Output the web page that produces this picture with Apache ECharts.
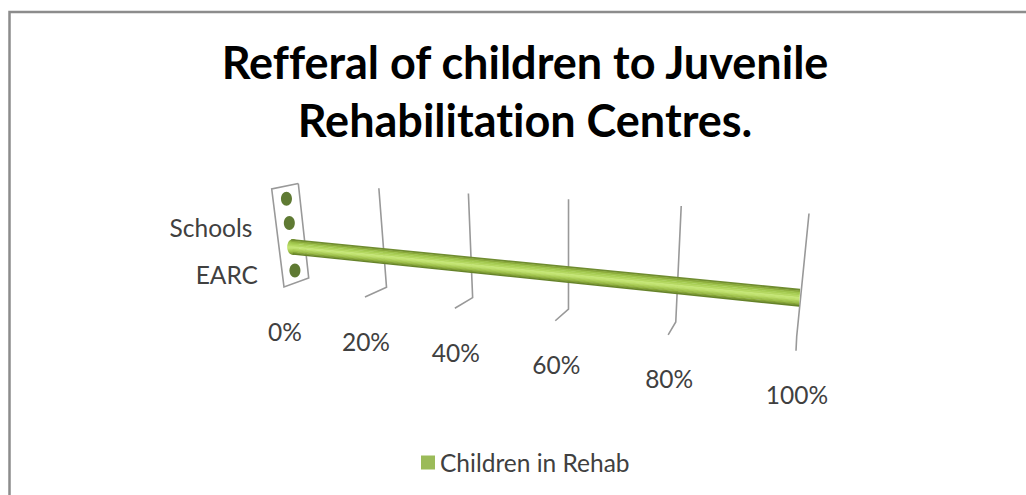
<!DOCTYPE html>
<html>
<head>
<meta charset="utf-8">
<style>
html, body { margin: 0; padding: 0; background: #fff; }
#chart { width: 1026px; height: 495px; }
#chart text { font-variant-ligatures: none !important; }
</style>
<script src="https://cdn.jsdelivr.net/npm/echarts@6/dist/echarts.min.js"></script>
</head>
<body>
<div id="chart"></div>
<script>
var titleText = 'Refferal of children to Juvenile\nRehabilitation Centres.';
var seriesName = 'Children in Rehab';
// only every other category label is printed in the picture
var categories = ['', 'Schools', ' ', 'EARC'];
var rehabValues = [0, 0, 100, 0];
var tickValues = [0, 20, 40, 60, 80, 100];
var tickLabels = ['0%', '20%', '40%', '60%', '80%', '100%'];

// the fake 3d view: maps the flat grid to the slanted planes of the picture
function quadMap(p0, p1, p2, p3) {
    var dx1 = p1[0] - p2[0], dx2 = p3[0] - p2[0], sx = p0[0] - p1[0] + p2[0] - p3[0];
    var dy1 = p1[1] - p2[1], dy2 = p3[1] - p2[1], sy = p0[1] - p1[1] + p2[1] - p3[1];
    var den = dx1 * dy2 - dx2 * dy1;
    var g = (sx * dy2 - dx2 * sy) / den;
    var h = (dx1 * sy - sx * dy1) / den;
    var a = p1[0] - p0[0] + g * p1[0], b = p3[0] - p0[0] + h * p3[0];
    var d = p1[1] - p0[1] + g * p1[1], e = p3[1] - p0[1] + h * p3[1];
    return function (u, v) {
        var w = g * u + h * v + 1;
        return [(a * u + b * v + p0[0]) / w, (d * u + e * v + p0[1]) / w];
    };
}
var backWall = quadMap([298.3, 183.5], [809, 213.5], [796.7, 336.5], [308.7, 278]);
var frontWall = quadMap([271.7, 189], [808, 222], [796, 350.7], [284, 287]);
var barPlane = quadMap([285, 186.5], [804, 228], [797, 338], [296.3, 282]);

function gridU(api, params, value) {
    return (api.coord([value, 0])[0] - params.coordSys.x) / params.coordSys.width;
}
function gridV(api, params, index) {
    return (api.coord([0, index])[1] - params.coordSys.y) / params.coordSys.height;
}

function renderTick(params, api) {
    var value = api.value(0);
    var u = gridU(api, params, value);
    var top = backWall(u, 0), bend = backWall(u, 1), foot = frontWall(u, 1);
    var points = [top, bend, foot];
    if (value === 0) {
        points.push(frontWall(0, 0));
        points.push(top);
    }
    return {
        type: 'group',
        children: [{
            type: 'polyline',
            shape: { points: points },
            style: { fill: 'none', stroke: '#999999', lineWidth: 1.6 }
        }, {
            type: 'text',
            style: {
                text: tickLabels[params.dataIndex],
                x: foot[0] + 1,
                y: foot[1] + 44,
                align: 'center',
                verticalAlign: 'middle',
                font: '24.5px Lato',
                fill: '#404040'
            }
        }]
    };
}

var tubeShades = ['#6f8c30', '#8aa93b', '#9ec34b', '#a9cf55', '#b5d862', '#c5e676', '#bfe06e', '#aed05a', '#9dbf4a', '#84a336', '#66832a'];

function renderBar(params, api) {
    var index = params.dataIndex;
    var value = api.value(0);
    var u = gridU(api, params, value);
    var v = gridV(api, params, index);
    var thick = 0.165;
    var start = barPlane(0, v);
    var children = [];
    var name = categories[index].trim();
    if (name) {
        children.push({
            type: 'text',
            style: {
                text: name,
                x: start[0] - 37,
                y: start[1] + 4,
                align: 'right',
                verticalAlign: 'middle',
                font: '24.5px Lato',
                fill: '#404040'
            }
        });
    }
    if (value > 0) {
        var n = tubeShades.length;
        var stops = tubeShades.map(function (c, i) {
            return { offset: i / (n - 1), color: c };
        });
        children.push({
            type: 'ellipse',
            shape: { cx: start[0] + 1, cy: start[1], rx: 6, ry: 8 },
            style: { fill: new echarts.graphic.LinearGradient(0, 0, 0, 1, stops) }
        });
        for (var i = 0; i < n; i++) {
            var v0 = v + thick * (i / n - 0.5);
            var v1 = v + thick * ((i + 1.3) / n - 0.5);
            if (i === n - 1) {
                v1 = v + thick * 0.5;
            }
            children.push({
                type: 'polygon',
                shape: { points: [barPlane(0, v0), barPlane(u, v0), barPlane(u, v1), barPlane(0, v1)] },
                style: { fill: tubeShades[i] }
            });
        }
    } else {
        children.push({
            type: 'ellipse',
            shape: { cx: start[0], cy: start[1], rx: 5.5, ry: 7 },
            style: { fill: '#5f7a33' }
        });
    }
    return { type: 'group', children: children };
}

var chart = echarts.init(document.querySelector('#chart'), null, { renderer: 'svg' });
var option = {
    backgroundColor: '#fff',
    animation: false,
    title: {
        text: titleText,
        left: 520,
        top: 28,
        textAlign: 'center',
        textStyle: {
            fontFamily: 'Lato',
            fontWeight: 'bold',
            fontSize: 45,
            lineHeight: 58,
            color: '#000'
        }
    },
    legend: {
        show: true,
        data: [seriesName],
        left: 416,
        top: 445,
        icon: 'rect',
        itemWidth: 14,
        itemHeight: 14,
        itemGap: 7,
        selectedMode: false,
        textStyle: { fontFamily: 'Lato', fontSize: 24.5, color: '#404040' }
    },
    grid: { left: 0, right: 0, top: 0, bottom: 0 },
    xAxis: { type: 'value', min: 0, max: 100, interval: 20, show: false },
    yAxis: { type: 'category', data: categories, inverse: true, show: false },
    graphic: [{
        type: 'polyline',
        shape: { points: [[9.5, 495], [9.5, 12], [1026, 12]] },
        style: { fill: 'none', stroke: '#8c8c8c', lineWidth: 2.5 }
    }],
    series: [{
        type: 'custom',
        name: 'ticks',
        renderItem: renderTick,
        clip: false,
        silent: true,
        encode: { x: 0 },
        data: tickValues.map(function (t) { return [t]; }),
        z: 1
    }, {
        type: 'custom',
        name: seriesName,
        renderItem: renderBar,
        clip: false,
        silent: true,
        itemStyle: { color: '#9bbb59' },
        encode: { x: 0 },
        data: rehabValues.map(function (r) { return [r]; }),
        z: 2
    }]
};
chart.setOption(option);
</script>
</body>
</html>
